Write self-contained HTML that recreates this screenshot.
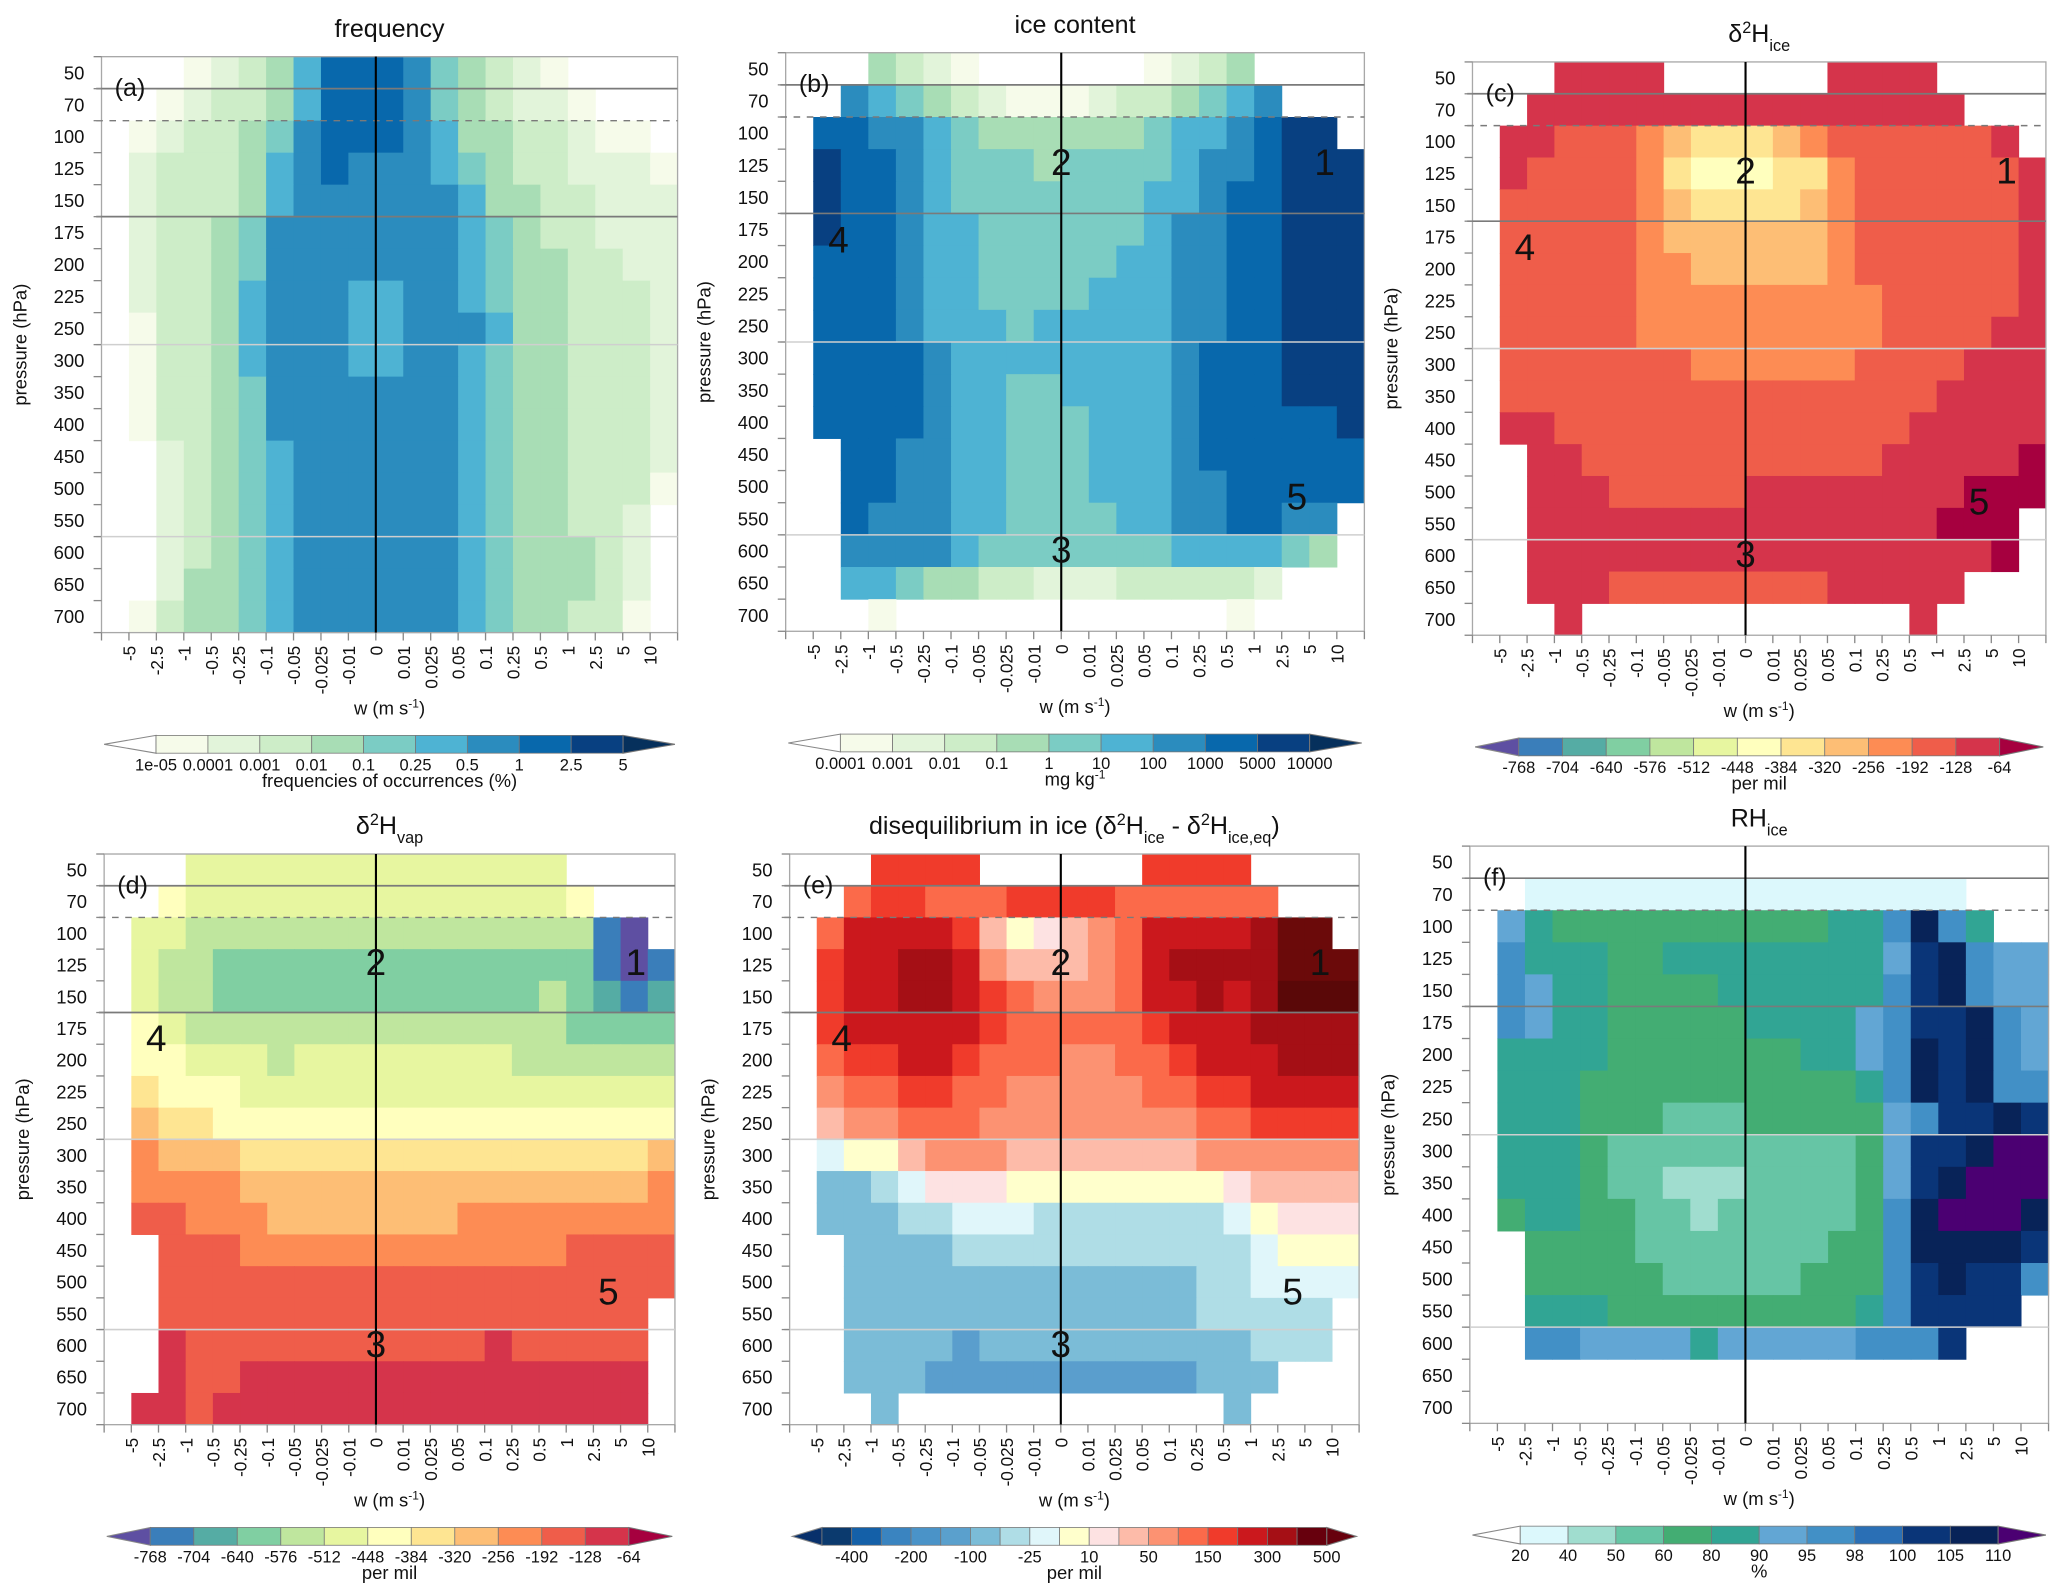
<!DOCTYPE html>
<html><head><meta charset="utf-8"><title>Ice/vapour isotope heatmaps</title>
<style>
html,body{margin:0;padding:0;background:#fff;}
svg{display:block;font-family:"Liberation Sans",sans-serif;}
</style></head>
<body>
<svg id="fig" xmlns="http://www.w3.org/2000/svg" width="2067" height="1596" viewBox="0 0 1568 1211" preserveAspectRatio="none"></svg>
<script>
// ---- data ----
const wLabels=["-5","-2.5","-1","-0.5","-0.25","-0.1","-0.05","-0.025","-0.01","0","0.01","0.025","0.05","0.1","0.25","0.5","1","2.5","5","10"];
const pLabels=["50","70","100","125","150","175","200","225","250","300","350","400","450","500","550","600","650","700"];
const freqRows=["000123468887543210000","001233468887543221000","012334578887644332110","023334678777654332221","023334677777764433222","023345777777765433222","023345777777765443322","023346777667765443332","013346777667776443332","013346777667765443332","013345777777765443332","013345777777765443332","002345677777765443332","002345677777765443331","002345677777765443320","002345677777765444320","002445677777765444320","013445677777765443310"];
const iceRows=["000432100000012340000","007654321112334567000","088776544444456678990","098876555455556778999","098876555555566788999","098876655555567788999","088876655555667788999","088876655556667788999","088876665666667788999","088887666666667888999","088887665566667888999","088887665556667888889","008877665556667888888","008877665556667788888","008777665555667788770","007777655555556666540","006654433222333332000","000100000000000010000"];
const dIceRows=["000BBBB000000BBBB0000","00BBBBBBBBBBBBBBBB000","0BBCCCDEFFFEDCCCCCCB0","0BCCCCDFGGGFFDCCCCCCB","0CCCCCDEFFFFEDCCCCCCB","0CCCCCDEEEEEEDCCCCCCB","0CCCCCDDEEEEEDCCCCCCB","0CCCCCDDDDDDDDDCCCCCB","0CCCCCDDDDDDDDDCCCCBB","0CCCCCCCDDDDDDCCCCBBB","0CCCCCCCCCCCCCCCCBBBB","0BBCCCCCCCCCCCCCBBBBB","00BBCCCCCCCCCCCBBBBBA","00BBBCCCCCBBBBBBBBAAA","00BBBBBBBBBBBBBBBAAA0","00BBBBBBBBBBBBBBBBBA0","00BBBCCCCCCCCBBBBB000","000B000000000000B0000"];
const dVapRows=["000HHHHHHHHHHHHHH0000","00GHHHHHHHHHHHHHHG000","0HHIIIIIIIIIIIIIIILM0","0HIIKKKKKKKKKKKKKKLML","0HIIKKKKKKKKKKKKIKNLN","0GHIIIIIIIIIIIIIIKKKK","0GGHHHIHHHHHHHHIIIIII","0FGGGHHHHHHHHHHHHHHHH","0EFFGGGGGGGGGGGGGGGGG","0DEEEFFFFFFFFFFFFFFFE","0DDDDEEEEEEEEEEEEEEED","0CCDDDEEEEEEEDDDDDDDD","00CCCDDDDDDDDDDDDCCCC","00CCCCCCCCCCCCCCCCCCC","00CCCCCCCCCCCCCCCCCC0","00BCCCCCCCCCCCBCCCCC0","00BCCBBBBBBBBBBBBBBB0","0BBCBBBBBBBBBBBBBBBB0"];
const disRows=["000vvvv000000vvvv0000","00uvvuuuvvvvuuuuuu000","0uwwwwvsypstuwwwwxzz0","0vwwxxwtssstuwxxxxzzz","0vwwxxwvutttuwwxwxZZZ","0vwwwwwvuuuuuvwwwxxxx","0uvvwwvuuuttuuvwwwxxx","0tuuvvuutttttuuvvwwww","0sttuuuttttttttuuvvvv","0dyystttssssssstttttt","0bbcdpppyyyyyyyypssss","0bbbccdddcccccccdyppp","00bbbbcccccccccccdyyy","00bbbbbbbbbbbbbccdddd","00bbbbbbbbbbbbbccccc0","00bbbbabbbbbbbbbbccc0","00bbbaaaaaaaaaabbb000","000b000000000000b0000"];
const rhRows=["000000000000000000000","001111111111111111000","065444444444455797500","075554455555555689766","076554444555555789766","076554444455556788976","055554444444556798976","055544444444445798977","055544433344444678898","0555433333333346889pp","055543322233334689ppp","04554433233333479ppp9","004444333333344799998","004444433333444789887","005554444444445788880","007766665666667778000","000000000000000000000","000000000000000000000"];
const freqTicks=["1e-05","0.0001","0.001","0.01","0.1","0.25","0.5","1","2.5","5"];
const iceTicks=["0.0001","0.001","0.01","0.1","1","10","100","1000","5000","10000"];
const isoTicks=["-768","-704","-640","-576","-512","-448","-384","-320","-256","-192","-128","-64"];
const disTicks=["-400","-200","-100","-25","10","50","150","300","500"];
const rhTicks=["20","40","50","60","80","90","95","98","100","105","110"];

// ---- styles ----
const GNBU={"1":"#f6fbea","2":"#e2f4da","3":"#cdedc8","4":"#a8ddb5","5":"#7bccc4","6":"#4eb3d3","7":"#2b8cbe","8":"#0868ac","9":"#084081"};
const SPEC={A:"#a6003f",B:"#d5344b",C:"#ef5d4a",D:"#fd8c54",E:"#fdbe75",F:"#fee592",G:"#ffffbe",H:"#e7f6a0",I:"#bfe69e",K:"#80cfa2",N:"#55aca4",L:"#3a7eba",M:"#5e4fa2"};
const RDBU={a:"#5a9ecd",b:"#7bbcd7",c:"#afdde6",d:"#e0f6fa",y:"#ffffcc",p:"#fde2e2",s:"#fdbba9",t:"#fc9272",u:"#fb6a4a",v:"#f03b2b",w:"#cb181d",x:"#a50f15",z:"#6b0a0a",Z:"#5a0808"};
const RH={"1":"#dcf8fc","2":"#a0ddcf","3":"#66c5a5","4":"#43ad73","5":"#31a594","6":"#62a6d4","7":"#4290c6","8":"#0a3578","9":"#082358",p:"#4b0072"};

const svg=document.getElementById('fig');
const NS='http://www.w3.org/2000/svg';
function mk(tag,attrs,parent){const e=document.createElementNS(NS,tag);for(const k in attrs)e.setAttribute(k,attrs[k]);parent.appendChild(e);return e;}

const panels=[
 {id:"a",rows:freqRows,pal:GNBU,L:77,T:43,W:437,H:437,ann:false,title:[["frequency"]],
  cb:{ticks:freqTicks,boxes:["#f6fbea","#e2f4da","#cdedc8","#a8ddb5","#7bccc4","#4eb3d3","#2b8cbe","#0868ac","#084081"],lt:"#ffffff",rt:"#06305c",step:1,start:0,title:[["frequencies of occurrences (%)"]]}},
 {id:"b",rows:iceRows,pal:GNBU,L:596,T:40,W:439,H:439,ann:true,title:[["ice content"]],
  cb:{ticks:iceTicks,boxes:["#f6fbea","#e2f4da","#cdedc8","#a8ddb5","#7bccc4","#4eb3d3","#2b8cbe","#0868ac","#084081"],lt:"#ffffff",rt:"#06305c",step:1,start:0,title:[["mg kg"],["-1","sup"]]}},
 {id:"c",rows:dIceRows,pal:SPEC,L:1117,T:47,W:435,H:435,ann:true,title:[["δ"],["2","sup"],["H"],["ice","sub"]],
  cb:{ticks:isoTicks,boxes:["#3a7eba","#55aca4","#80cfa2","#bfe69e","#e7f6a0","#ffffbe","#fee592","#fdbe75","#fd8c54","#ef5d4a","#d5344b"],lt:"#5e4fa2",rt:"#a6003f",step:1,start:0,title:[["per mil"]]}},
 {id:"d",rows:dVapRows,pal:SPEC,L:79,T:648,W:433,H:433,ann:true,title:[["δ"],["2","sup"],["H"],["vap","sub"]],
  cb:{ticks:isoTicks,boxes:["#3a7eba","#55aca4","#80cfa2","#bfe69e","#e7f6a0","#ffffbe","#fee592","#fdbe75","#fd8c54","#ef5d4a","#d5344b"],lt:"#5e4fa2",rt:"#a6003f",step:1,start:0,title:[["per mil"]]}},
 {id:"e",rows:disRows,pal:RDBU,L:599,T:648,W:432,H:433,ann:true,title:[["disequilibrium in ice (δ"],["2","sup"],["H"],["ice","sub"],[" - δ"],["2","sup"],["H"],["ice,eq","sub"],[")"]],
  cb:{ticks:disTicks,boxes:["#0b3a6e","#1460a8","#3a84c0","#4a93c8","#5aa0cd","#7bbcd7","#afdde6","#e0f6fa","#ffffcc","#fde2e2","#fdbba9","#fc9272","#fb6a4a","#f03b2b","#cb181d","#a50f15","#67000d"],lt:"#08306b",rt:"#67000d",step:2,start:1,title:[["per mil"]]}},
 {id:"f",rows:rhRows,pal:RH,L:1115,T:642,W:439,H:438,ann:false,title:[["RH"],["ice","sub"]],
  cb:{ticks:rhTicks,boxes:["#dcf8fc","#a0ddcf","#66c5a5","#43ad73","#31a594","#62a6d4","#4290c6","#2a6fb5","#0a3578","#082358"],lt:"#ffffff",rt:"#4b0072",step:1,start:0,title:[["%"]]}}
];

function richText(parent,x,y,parts,size,anchor){
  const t=mk('text',{x:x,y:y,'font-size':size,'text-anchor':anchor||'middle',fill:'#111'},parent);
  parts.forEach(p=>{
    const ts=mk('tspan',{},t);
    if(p[1]==='sup'){ts.setAttribute('baseline-shift','super');ts.setAttribute('font-size',size*0.65);}
    if(p[1]==='sub'){ts.setAttribute('baseline-shift','sub');ts.setAttribute('font-size',size*0.65);}
    ts.textContent=p[0];
  });
  return t;
}

panels.forEach(p=>{
  const g=mk('g',{},svg);
  
  
  const cw=p.W/21, rh=p.H/18, B=p.T+p.H, R=p.L+p.W;
  const xAt=i=>p.L+i*cw, yAt=i=>p.T+i*rh;
  // cells
  const cells=mk('g',{},g);
  
  
  p.rows.forEach((s,r)=>{
    [...s].forEach((ch,c)=>{
      const col=p.pal[ch]; if(!col) return;
      const rc=mk('rect',{x:xAt(c),y:yAt(r),width:cw+0.4,height:rh+0.4,fill:col},cells);
      
      
    });
  });
  // frame
  const fr=mk('rect',{x:p.L,y:p.T,width:p.W,height:p.H,fill:'none',stroke:'#a8a8a8','stroke-width':1},g);
  
  
  // reference lines
  const refs=[[1,'#7a7a7a',null,1.3],[2,'#7a7a7a','5,5',1.1],[5,'#7a7a7a',null,1.3],[9,'#cfcfcf',null,1.2],[15,'#cfcfcf',null,1.2]];
  refs.forEach(rf=>{
    const ln=mk('line',{x1:p.L-4,x2:R,y1:yAt(rf[0]),y2:yAt(rf[0]),stroke:rf[1],'stroke-width':rf[3]},g);
    if(rf[2]) ln.setAttribute('stroke-dasharray',rf[2]);
    
    
  });
  const vl=mk('line',{x1:xAt(10),x2:xAt(10),y1:p.T,y2:B,stroke:'#000','stroke-width':1.6},g);
  
  
  // ticks
  for(let i=0;i<=18;i++){const t=mk('line',{x1:p.L-6,x2:p.L,y1:yAt(i),y2:yAt(i),stroke:'#888','stroke-width':1},g);
    
    }
  for(let i=0;i<=21;i++){const t=mk('line',{x1:xAt(i),x2:xAt(i),y1:B,y2:B+6,stroke:'#888','stroke-width':1},g);
    
    }
  pLabels.forEach((lab,r)=>{
    const t=mk('text',{x:p.L-13,y:yAt(r+0.5)+5,'font-size':14,'text-anchor':'end',fill:'#111'},g);
    t.textContent=lab;
    
    
  });
  wLabels.forEach((lab,i)=>{
    const x=xAt(i+1)+5, y=B+10;
    const t=mk('text',{x:x,y:y,'font-size':13,'text-anchor':'end',fill:'#111',transform:'rotate(-90 '+x+' '+y+')'},g);
    t.textContent=lab;
    
    
  });
  // axis titles
  const yt=mk('text',{x:p.L-57,y:p.T+p.H/2,'font-size':14,'text-anchor':'middle',fill:'#111',transform:'rotate(-90 '+(p.L-57)+' '+(p.T+p.H/2)+')'},g);
  yt.textContent='pressure (hPa)';
  
  
  const xt=richText(g,p.L+p.W/2,B+62,[["w (m s"],["-1","sup"],[")"]],14);
  
  
  // panel title & letter
  const tt=richText(g,p.L+p.W/2,p.T-15,p.title,19);
  
  
  const lt=mk('text',{x:p.L+10,y:p.T+30,'font-size':19,fill:'#111'},g);
  lt.textContent='('+p.id+')';
  
  
  // region annotations
  if(p.ann){
    const ann=[["1",19.56,3.4],["2",10,3.4],["3",10,15.45],["4",1.92,5.8],["5",18.55,13.8]];
    ann.forEach(a=>{
      const t=mk('text',{x:xAt(a[1]),y:yAt(a[2])+10,'font-size':28,'text-anchor':'middle',fill:'#111'},g);
      t.textContent=a[0];
      
      
    });
  }
  // colorbar
  const cb=p.cb, cg=mk('g',{},g);
  
  
  const x0=p.L+2, x1=R-2, cy=B+78, ch=13.5;
  const n=cb.boxes.length, u=(x1-x0)/(n+2);
  const tl=mk('polygon',{points:x0+','+(cy+ch/2)+' '+(x0+u)+','+cy+' '+(x0+u)+','+(cy+ch),fill:cb.lt,stroke:'#888','stroke-width':0.8},cg);
  
  
  cb.boxes.forEach((col,i)=>{
    const r=mk('rect',{x:x0+u*(i+1),y:cy,width:u,height:ch,fill:col,stroke:'#777','stroke-width':0.6},cg);
    
    
  });
  const tr=mk('polygon',{points:x1+','+(cy+ch/2)+' '+(x1-u)+','+cy+' '+(x1-u)+','+(cy+ch),fill:cb.rt,stroke:'#777','stroke-width':0.8},cg);
  
  
  cb.ticks.forEach((lab,i)=>{
    const b=cb.start+i*cb.step;
    const t=mk('text',{x:x0+u*(1+b),y:cy+ch+13,'font-size':12.5,'text-anchor':'middle',fill:'#111'},cg);
    t.textContent=lab;
    
    
  });
  const ct=richText(cg,p.L+p.W/2,B+117,cb.title,14);
  
  
});
</script>
</body></html>
